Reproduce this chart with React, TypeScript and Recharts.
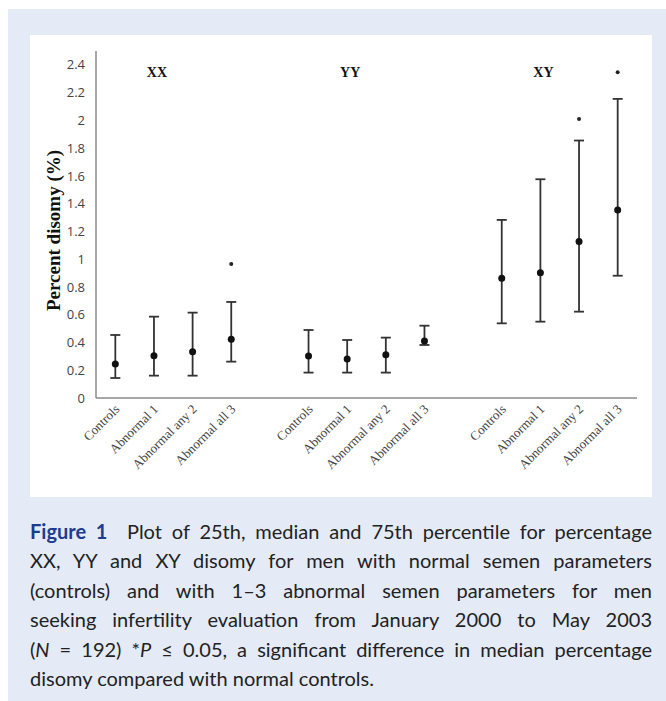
import { ComposedChart, Line, XAxis, YAxis, ErrorBar, ReferenceDot, Label } from "recharts"

const groups = ["XX", "YY", "XY"]
const conditions = ["Controls", "Abnormal 1", "Abnormal any 2", "Abnormal all 3"]

// 25th percentile, median, 75th percentile, significance marker
const xxLower = [0.144, 0.161, 0.161, 0.262]
const xxMedian = [0.245, 0.305, 0.334, 0.423]
const xxUpper = [0.454, 0.586, 0.615, 0.692]
const xxStar = [null, null, null, 0.966]

const yyLower = [0.183, 0.183, 0.183, 0.382]
const yyMedian = [0.303, 0.281, 0.312, 0.411]
const yyUpper = [0.49, 0.418, 0.435, 0.521]
const yyStar = [null, null, null, null]

const xyLower = [0.538, 0.55, 0.622, 0.881]
const xyMedian = [0.862, 0.903, 1.127, 1.355]
const xyUpper = [1.283, 1.576, 1.855, 2.155]
const xyStar = [null, null, 2.01, 2.347]

const yTicks = [0, 0.2, 0.4, 0.6, 0.8, 1, 1.2, 1.4, 1.6, 1.8, 2, 2.2, 2.4]

const series = [
  { lower: xxLower, median: xxMedian, upper: xxUpper, star: xxStar },
  { lower: yyLower, median: yyMedian, upper: yyUpper, star: yyStar },
  { lower: xyLower, median: xyMedian, upper: xyUpper, star: xyStar },
]

const data: any[] = []
groups.forEach((g, gi) => {
  const s = series[gi]
  conditions.forEach((c, ci) => {
    data.push({
      key: `${g}|${c}`,
      median: s.median[ci],
      err: [s.median[ci] - s.lower[ci], s.upper[ci] - s.median[ci]],
      star: s.star[ci],
    })
  })
  if (gi < groups.length - 1) data.push({ key: `gap${gi}` })
})

const serif = "'Liberation Serif', 'Times New Roman', serif"

function CategoryTick(props: any) {
  const { x, y, payload } = props
  const text = String(payload.value).split("|")[1] ?? ""
  const tx = x + 5
  const ty = y + 4
  return (
    <text x={tx} y={ty} transform={`rotate(-45, ${tx}, ${ty})`} textAnchor="end" fontSize={13} fontFamily={serif} fill="#444">
      {text}
    </text>
  )
}

function YTitle(props: any) {
  const vb = props.viewBox
  const x = vb.x + 17
  const y = vb.y + vb.height / 2 + 6
  return (
    <text x={x} y={y} transform={`rotate(-90, ${x}, ${y})`} textAnchor="middle" dominantBaseline="central" fontSize={19} fontWeight={700} fontFamily={serif} fill="#111">
      Percent disomy (%)
    </text>
  )
}

const captionLines = [
  <>
    <b style={{ color: "#1b3c8f" }}>Figure 1</b>&nbsp; Plot of 25th, median and 75th percentile for percentage
  </>,
  <>XX, YY and XY disomy for men with normal semen parameters</>,
  <>(controls) and with 1–3 abnormal semen parameters for men</>,
  <>seeking infertility evaluation from January 2000 to May 2003</>,
  <>
    (<i>N</i> = 192) *<i>P</i> ≤ 0.05, a significant difference in median percentage
  </>,
]

export default function App() {
  return (
    <div style={{ position: "absolute", left: 0, top: 0, width: 666, height: 701, background: "#fff", overflow: "hidden" }}>
      <div style={{ position: "absolute", left: 8, top: 9, width: 658, height: 692, background: "#e4eaf6" }} />
      <div style={{ position: "absolute", left: 30, top: 35, width: 622, height: 462, background: "#fff" }} />
      <div style={{ position: "absolute", left: 0, top: 0 }}>
        <ComposedChart width={666} height={500} data={data} margin={{ top: 51, right: 29, left: 36, bottom: 22 }}>
          <XAxis
            dataKey="key"
            scale="band"
            interval={0}
            tickLine={false}
            tick={<CategoryTick />}
            height={80}
            axisLine={{ stroke: "#8a8a8a", strokeWidth: 1.5 }}
          />
          <YAxis
            domain={[0, 2.5]}
            ticks={yTicks}
            width={60}
            tickLine={false}
            tickSize={0}
            tickMargin={11}
            tickFormatter={(v: number) => String(Number(v.toFixed(1)))}
            tick={{ fontSize: 13, fontFamily: "'Open Sans', sans-serif", fill: "#444" }}
            axisLine={{ stroke: "#8a8a8a", strokeWidth: 1.5 }}
          >
            <Label content={<YTitle />} />
          </YAxis>
          <Line
            dataKey="median"
            stroke="none"
            isAnimationActive={false}
            dot={{ r: 3.5, fill: "#111", stroke: "none" }}
            activeDot={false}
          >
            <ErrorBar dataKey="err" direction="y" width={5} strokeWidth={1.8} stroke="#333" />
          </Line>
          <Line
            dataKey="star"
            stroke="none"
            isAnimationActive={false}
            dot={{ r: 2, fill: "#222", stroke: "none" }}
            activeDot={false}
          />
          {groups.map((g) => (
            <ReferenceDot
              key={g}
              x={`${g}|Abnormal 1`}
              y={2.35}
              r={0}
              fill="none"
              stroke="none"
              label={{ value: g, position: "center", fontSize: 14, fontWeight: 700, fontFamily: serif, fill: "#111", dx: 3 }}
            />
          ))}
        </ComposedChart>
      </div>
      <div
        style={{
          position: "absolute",
          left: 30,
          top: 517,
          width: 622,
          fontFamily: "Lato, 'Open Sans', sans-serif",
          fontSize: 20,
          lineHeight: "29.4px",
          color: "#222",
        }}
      >
        {captionLines.map((line, i) => (
          <div key={i} style={{ textAlign: "justify", textAlignLast: "justify", whiteSpace: "nowrap" }}>
            {line}
          </div>
        ))}
        <div>disomy compared with normal controls.</div>
      </div>
    </div>
  )
}
